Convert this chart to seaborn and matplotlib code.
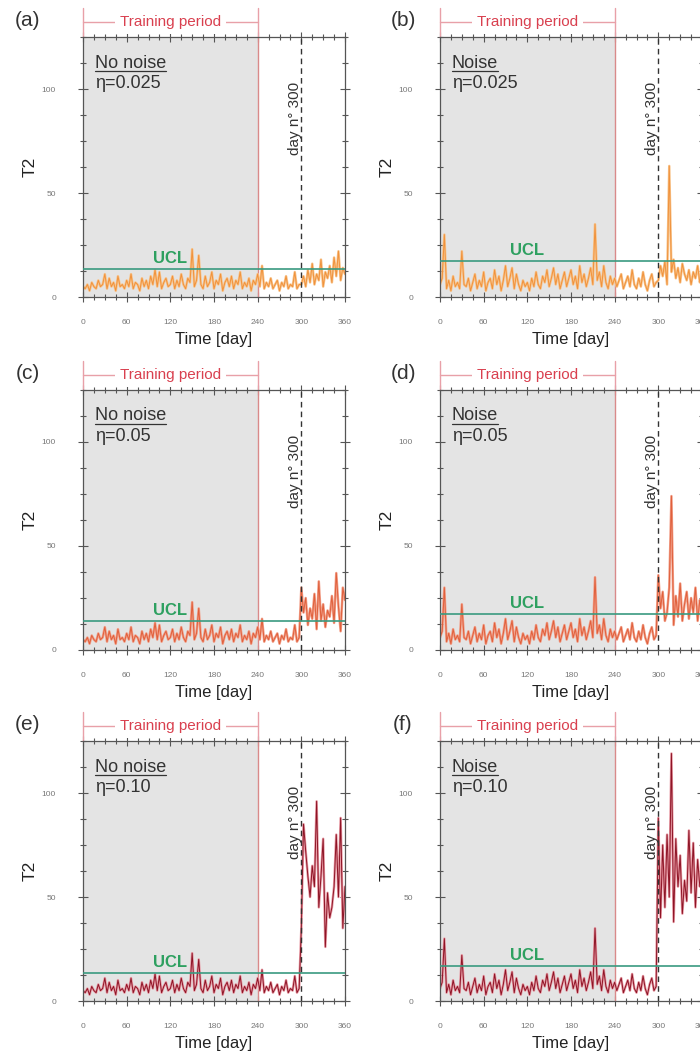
import seaborn as sns
import matplotlib.pyplot as plt
import matplotlib.transforms as mtransforms
from matplotlib.lines import Line2D
from matplotlib.ticker import MultipleLocator

# days, sampled every 3 days
days_pre = list(range(0, 300, 3))
days_post = list(range(300, 361, 3))

# T2 before day 300 (same training data for all panels of one column)
t2_pre_no_noise = [5, 4, 6, 3, 7, 5, 4, 8, 5, 6,
                   11, 4, 9, 5, 7, 3, 10, 5, 6, 4,
                   8, 5, 11, 4, 7, 6, 3, 9, 5, 8,
                   4, 10, 6, 13, 5, 12, 4, 7, 9, 5,
                   6, 10, 4, 8, 5, 11, 6, 4, 9, 7,
                   23, 5, 8, 20, 6, 4, 10, 5, 7, 12,
                   4, 8, 6, 11, 3, 7, 9, 5, 10, 4,
                   8, 6, 12, 4, 7, 5, 9, 3, 8, 6,
                   11, 5, 15, 4, 7, 5, 9, 4, 6, 8,
                   3, 7, 5, 10, 4, 6, 5, 12, 4, 6]
t2_pre_noise = [6, 9, 30, 4, 8, 3, 10, 5, 7, 4,
                22, 6, 5, 9, 3, 7, 11, 4, 8, 5,
                12, 3, 7, 9, 4, 13, 6, 10, 3, 8,
                15, 5, 9, 14, 4, 11, 6, 3, 8, 5,
                7, 3, 9, 5, 12, 6, 4, 10, 7, 13,
                5, 9, 14, 6, 11, 4, 8, 12, 5, 9,
                13, 6, 10, 4, 15, 7, 11, 5, 9, 14,
                6, 35, 8, 12, 5, 15, 7, 4, 10, 6,
                9, 5, 8, 11, 4, 7, 10, 5, 13, 6,
                4, 9, 5, 12, 6, 3, 8, 11, 5, 7]

# T2 from day 300 on, one list per panel
t2_post_a = [6, 10, 5, 13, 7, 16, 6, 11, 8, 18, 5, 12, 9, 15, 7, 19, 10, 22, 8, 14, 11]
t2_post_b = [8, 15, 10, 17, 6, 63, 12, 18, 9, 14, 7, 16, 11, 8, 13, 6, 12, 9, 15, 7, 11]
t2_post_c = [30, 18, 25, 12, 20, 15, 27, 10, 33, 14, 22, 11, 19, 16, 26, 13, 37, 21, 9, 30, 24]
t2_post_d = [36, 20, 28, 14, 18, 30, 74, 12, 26, 16, 32, 14, 22, 28, 15, 25, 18, 30, 14, 24, 20]
t2_post_e = [35, 85, 72, 60, 50, 65, 55, 96, 45, 60, 78, 26, 52, 40, 45, 55, 80, 50, 88, 35, 55]
t2_post_f = [88, 40, 75, 45, 80, 50, 119, 38, 78, 55, 70, 42, 58, 48, 82, 52, 76, 45, 68, 55, 62]

panel_letters = ["(a)", "(b)", "(c)", "(d)", "(e)", "(f)"]
noise_names = ["No noise", "Noise", "No noise", "Noise", "No noise", "Noise"]
eta_values = ["0.025", "0.025", "0.05", "0.05", "0.10", "0.10"]
ucl_values = [13.5, 17.2, 14.0, 17.2, 13.5, 17.0]
post_series = [t2_post_a, t2_post_b, t2_post_c, t2_post_d, t2_post_e, t2_post_f]
line_colors = ["#f0923c", "#f0923c", "#e0603c", "#e0603c", "#8e1426", "#8e1426"]
halo_colors = ["#f8c48c", "#f8c48c", "#f2a08a", "#f2a08a", "#e89aa4", "#e89aa4"]

sns.set_style("ticks")
plt.rcParams['font.family'] = ['Liberation Sans', 'DejaVu Sans']

W, H = 700, 1057
fig = plt.figure(figsize=(7, 10.57), dpi=100)

col_left = [83, 440]
row_top = [37, 390, 741]
ax_w, ax_h = 262, 260
label_x = [28, 403]
name_texts = []

for i in range(6):
	r, c = divmod(i, 2)
	left = col_left[c]
	top = row_top[r]
	ax = fig.add_axes([left / W, 1 - (top + ax_h) / H, ax_w / W, ax_h / H])

	pre = t2_pre_no_noise if c == 0 else t2_pre_noise
	days = days_pre + days_post
	vals = pre + post_series[i]

	ax.axvspan(0, 240, color="#e4e4e4", zorder=0, lw=0)
	ax.axvline(240, color="#d98a8a", lw=1.0, zorder=1)
	ax.axvline(300, color="#333333", lw=1.0, ls=(0, (4, 3)), zorder=3)

	sns.lineplot(x=days, y=vals, ax=ax, color=halo_colors[i], lw=1.8, zorder=2)
	sns.lineplot(x=days, y=vals, ax=ax, color=line_colors[i], lw=0.7, zorder=2)

	ax.axhline(ucl_values[i], color="#3a9a80", lw=1.2, zorder=4)
	ax.text(120, ucl_values[i] + 1.5, "UCL", color="#2ea060", fontsize=12,
			fontweight="bold", ha="center", va="bottom", zorder=5)

	t = ax.text(0.045, 0.90, noise_names[i], transform=ax.transAxes,
				fontsize=13, color="#333333", va="center", ha="left")
	name_texts.append(t)
	ax.text(0.045, 0.823, "η=" + eta_values[i], transform=ax.transAxes,
			fontsize=13, color="#333333", va="center", ha="left")
	ax.text(291, 86, "day n° 300", rotation=90, fontsize=11, color="#333333",
			ha="center", va="center", zorder=5)

	# training period bracket above the axes
	trans = mtransforms.blended_transform_factory(ax.transData, ax.transAxes)
	for xv in [0, 240]:
		ax.plot([xv, xv], [1.0, 1.11], transform=trans, color="#e8a0a8", lw=1.0, clip_on=False)
	ax.plot([0, 240], [1.058, 1.058], transform=trans, color="#e8a0a8", lw=1.0, clip_on=False)
	ax.text(120, 1.058, "Training period", transform=trans, color="#d9404f", fontsize=11,
			ha="center", va="center", clip_on=False,
			bbox=dict(facecolor="white", edgecolor="none", pad=3.5))

	fig.text(label_x[c] / W, 1 - (top - 16) / H, panel_letters[i], fontsize=15,
			 color="#333333", ha="center", va="center")

	ax.set_xlim(0, 360)
	ax.set_ylim(0, 125)
	ax.xaxis.set_major_locator(MultipleLocator(60))
	ax.xaxis.set_minor_locator(MultipleLocator(15))
	ax.yaxis.set_major_locator(MultipleLocator(50))
	ax.yaxis.set_minor_locator(MultipleLocator(12.5))
	ax.tick_params(which="both", top=True, right=True, direction="inout",
				   color="#555555", width=0.8)
	ax.tick_params(which="major", length=7)
	ax.tick_params(which="minor", length=5)
	ax.tick_params(axis="x", labelsize=6, labelcolor="#777777", pad=12)
	ax.tick_params(axis="y", labelsize=6, labelcolor="#777777", pad=16)
	for sp in ax.spines.values():
		sp.set_color("#555555")
		sp.set_linewidth(0.9)

	ax.set_xlabel("Time [day]", fontsize=12, color="#222222", labelpad=5)
	ax.set_ylabel("T2", fontsize=12.5, color="#222222")
	ax.yaxis.set_label_coords(-0.172, 0.5)

# underline the noise labels
renderer = fig.canvas.get_renderer()
for t in name_texts:
	bb = t.get_window_extent(renderer)
	y = (bb.y0 + 1) / H
	fig.add_artist(Line2D([bb.x0 / W, bb.x1 / W], [y, y], color="#333333", lw=0.9))

fig.savefig("out.png", dpi=100)
